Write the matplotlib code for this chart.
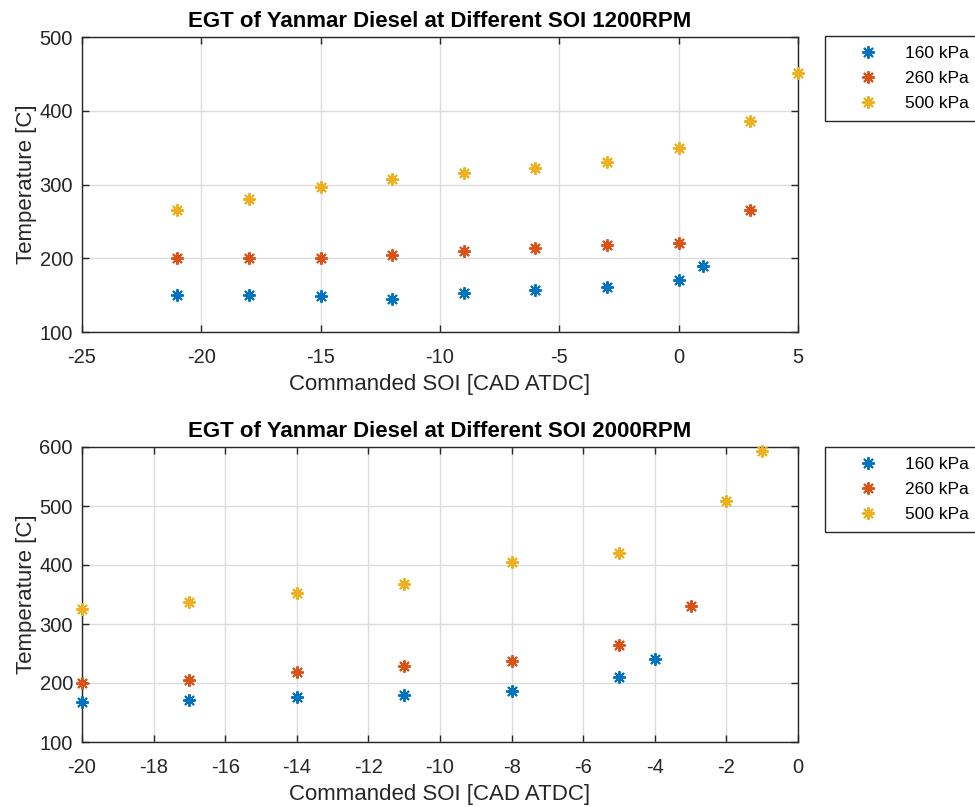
import matplotlib
matplotlib.use("Agg")
import matplotlib.pyplot as plt
from matplotlib.lines import Line2D

plt.rcParams['font.family'] = ['Liberation Sans', 'DejaVu Sans']
plt.rcParams['axes.unicode_minus'] = False

# 1200 RPM sweep
soi_1200_160 = [-21, -18, -15, -12, -9, -6, -3, 0, 1]
egt_1200_160 = [150, 150, 149, 145, 153, 157, 161, 170, 190]
soi_1200_260 = [-21, -18, -15, -12, -9, -6, -3, 0, 3]
egt_1200_260 = [200, 200, 200, 205, 210, 214, 218, 221, 266]
soi_1200_500 = [-21, -18, -15, -12, -9, -6, -3, 0, 3, 5]
egt_1200_500 = [265, 280, 296, 308, 315, 322, 331, 350, 386, 451]

# 2000 RPM sweep
soi_2000_160 = [-20, -17, -14, -11, -8, -5, -4]
egt_2000_160 = [167, 172, 176, 180, 186, 211, 240]
soi_2000_260 = [-20, -17, -14, -11, -8, -5, -3]
egt_2000_260 = [200, 205, 219, 229, 238, 265, 331]
soi_2000_500 = [-20, -17, -14, -11, -8, -5, -2, -1]
egt_2000_500 = [325, 337, 352, 368, 405, 420, 508, 593]

labels = ['160 kPa', '260 kPa', '500 kPa']
colors = ['#0072BD', '#D95319', '#EDB120']

titles = ['EGT of Yanmar Diesel at Different SOI 1200RPM',
          'EGT of Yanmar Diesel at Different SOI 2000RPM']
xlabel = 'Commanded SOI [CAD ATDC]'
ylabel = 'Temperature [C]'

W, H = 975, 807
fig = plt.figure(figsize=(W / 100, H / 100), dpi=100)

def px_axes(left, top, right, bottom):
    return fig.add_axes([left / W, 1 - bottom / H, (right - left) / W, (bottom - top) / H])

ax1 = px_axes(82, 37, 798, 332)
ax2 = px_axes(82, 447, 798, 742)

asterisk = (8, 2, 0)
edge = '#262626'
msize, mew = 9, 1.4

def style(ax, title, xlim, ylim, xticks, yticks):
    ax.set_xlim(*xlim)
    ax.set_ylim(*ylim)
    ax.set_xticks(xticks)
    ax.set_yticks(yticks)
    ax.grid(True, color='#dcdcdc', linewidth=1.0)
    ax.set_axisbelow(True)
    ax.tick_params(direction='in', top=True, right=True, length=5, width=1,
                   color=edge, labelsize=14.5, labelcolor='#262626')
    ax.tick_params(axis='x', pad=11.5)
    ax.tick_params(axis='y', pad=6.5)
    for sp in ax.spines.values():
        sp.set_color(edge)
        sp.set_linewidth(1.0)
    ax.set_title(title, fontsize=16, fontweight='bold', pad=7)
    ax.set_xlabel(xlabel, fontsize=16, color='#262626', labelpad=5)
    ax.set_ylabel(ylabel, fontsize=16, color='#262626', labelpad=2)

def draw(ax, series, legend_top):
    for (x, y), c, lab in zip(series, colors, labels):
        ax.plot(x, y, linestyle='none', marker=asterisk, markersize=msize,
                markeredgewidth=mew, color=c, label=lab, clip_on=False, zorder=3)
    leg = fig.legend(handles=[Line2D([], [], linestyle='none', marker=asterisk, markersize=msize,
                                     markeredgewidth=mew, color=c) for c in colors],
                     labels=labels, loc='upper left',
                     bbox_to_anchor=(825 / W, 1 - legend_top / H),
                     fontsize=12.5, frameon=True, fancybox=False,
                     edgecolor=edge, framealpha=1, borderpad=0.55,
                     handlelength=3.9, handletextpad=0.15, labelspacing=0.58,
                     borderaxespad=0)
    leg.get_frame().set_linewidth(1.0)

style(ax1, titles[0], (-25, 5), (100, 500), range(-25, 6, 5), range(100, 501, 100))
draw(ax1, [(soi_1200_160, egt_1200_160), (soi_1200_260, egt_1200_260),
           (soi_1200_500, egt_1200_500)], 36)

style(ax2, titles[1], (-20, 0), (100, 600), range(-20, 1, 2), range(100, 601, 100))
draw(ax2, [(soi_2000_160, egt_2000_160), (soi_2000_260, egt_2000_260),
           (soi_2000_500, egt_2000_500)], 447)

fig.savefig('out.png', dpi=100)
